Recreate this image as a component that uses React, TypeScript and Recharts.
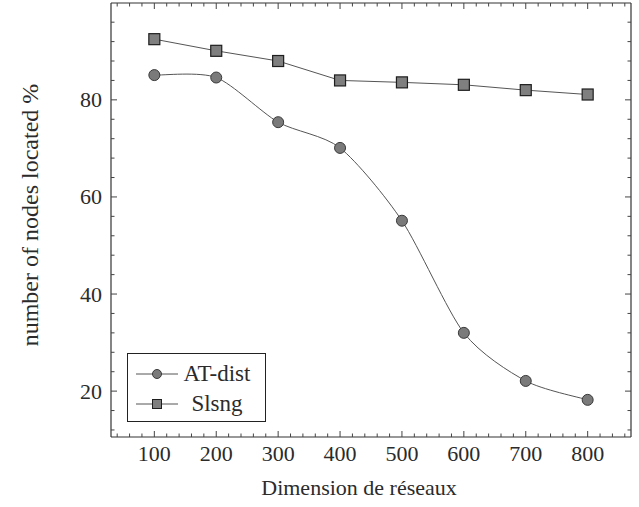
import { LineChart, Line, XAxis, YAxis, Legend } from "recharts";

// network sizes on the x axis
const DIMENSIONS = [100, 200, 300, 400, 500, 600, 700, 800];
// % of nodes located
const AT_DIST = [85.1, 84.6, 75.4, 70.1, 55.1, 32.0, 22.1, 18.2];
const SLSNG = [92.5, 90.1, 88.0, 84.0, 83.6, 83.1, 82.0, 81.1];

const X_MAJOR = [100, 200, 300, 400, 500, 600, 700, 800];
const X_MINOR = [
  40, 60, 80, 120, 140, 160, 180, 220, 240, 260, 280, 320, 340, 360, 380,
  420, 440, 460, 480, 520, 540, 560, 580, 620, 640, 660, 680, 720, 740, 760,
  780, 820, 840, 860,
];
const Y_MAJOR = [20, 40, 60, 80];
const Y_MINOR = [12, 16, 24, 28, 32, 36, 44, 48, 52, 56, 64, 68, 72, 76, 84, 88, 92, 96];

const X_DOMAIN: [number, number] = [30, 870];
const Y_DOMAIN: [number, number] = [10.55, 99.95];

const data = DIMENSIONS.map((dim, i) => ({
  dim,
  atDist: AT_DIST[i],
  slsng: SLSNG[i],
}));

const FONT = "'Liberation Serif', 'Times New Roman', serif";
const INK = "#2b2b2b";
const FRAME = { stroke: "#333", strokeWidth: 1.2 };
const MAJOR_LEN = 6;
const MINOR_LEN = 3.5;

// pgfplots-style "smooth" line: a cardinal spline through the points the
// library hands us (recharts accepts a d3 curve factory as Line type).
const TENSION = 0.13;
function smoothCurve(ctx: any) {
  let pts: [number, number][] = [];
  return {
    areaStart() {},
    areaEnd() {},
    lineStart() {
      pts = [];
    },
    point(x: number, y: number) {
      pts.push([+x, +y]);
    },
    lineEnd() {
      const n = pts.length;
      if (!n) return;
      ctx.moveTo(pts[0][0], pts[0][1]);
      for (let i = 0; i < n - 1; i++) {
        const p0 = pts[Math.max(i - 1, 0)];
        const p1 = pts[i];
        const p2 = pts[i + 1];
        const p3 = pts[Math.min(i + 2, n - 1)];
        ctx.bezierCurveTo(
          p1[0] + TENSION * (p2[0] - p0[0]),
          p1[1] + TENSION * (p2[1] - p0[1]),
          p2[0] - TENSION * (p3[0] - p1[0]),
          p2[1] - TENSION * (p3[1] - p1[1]),
          p2[0],
          p2[1]
        );
      }
    },
  };
}

function BottomTick({ x, y, payload }: any) {
  const major = X_MAJOR.includes(payload.value);
  return (
    <g>
      <line x1={x} y1={y} x2={x} y2={y - (major ? MAJOR_LEN : MINOR_LEN)} stroke="#444" />
      {major && (
        <text x={x} y={y + 23.5} textAnchor="middle" fontFamily={FONT} fontSize={22} fill={INK}>
          {payload.value}
        </text>
      )}
    </g>
  );
}

function TopTick({ x, y, payload }: any) {
  const major = X_MAJOR.includes(payload.value);
  return <line x1={x} y1={y} x2={x} y2={y + (major ? MAJOR_LEN : MINOR_LEN)} stroke="#444" />;
}

function LeftTick({ x, y, payload }: any) {
  const major = Y_MAJOR.includes(payload.value);
  return (
    <g>
      <line x1={x} y1={y} x2={x + (major ? MAJOR_LEN : MINOR_LEN)} y2={y} stroke="#444" />
      {major && (
        <text x={x - 9} y={y + 7.5} textAnchor="end" fontFamily={FONT} fontSize={22} fill={INK}>
          {payload.value}
        </text>
      )}
    </g>
  );
}

function RightTick({ x, y, payload }: any) {
  const major = Y_MAJOR.includes(payload.value);
  return <line x1={x} y1={y} x2={x - (major ? MAJOR_LEN : MINOR_LEN)} y2={y} stroke="#444" />;
}

function SquareDot({ cx, cy, index }: any) {
  if (cx == null || cy == null) return null;
  return (
    <rect key={`sq-${index}`} x={cx - 5.5} y={cy - 5.5} width={11} height={11} fill="#7f7f7f" stroke="#1e1e1e" strokeWidth={1.2} />
  );
}

function LegendBox({ payload }: any) {
  return (
    <div
      style={{
        border: "1.2px solid #222",
        background: "#fff",
        width: 137,
        height: 62,
        boxSizing: "content-box",
        paddingTop: 5,
        fontFamily: FONT,
        fontSize: 23,
        color: INK,
      }}
    >
      {(payload || []).map((entry: any) => (
        <div key={entry.value} style={{ display: "flex", alignItems: "center", height: 30, paddingLeft: 7 }}>
          <svg width={44} height={14}>
            <line x1={1} y1={7} x2={43} y2={7} stroke="#555" strokeWidth={1} />
            {entry.dataKey === "atDist" ? (
              <circle cx={22} cy={7} r={4.5} fill="#7a7a7a" stroke="#3a3a3a" />
            ) : (
              <rect x={17.5} y={2.5} width={9} height={9} fill="#7f7f7f" stroke="#1e1e1e" />
            )}
          </svg>
          <span style={{ width: 76, marginLeft: 0, textAlign: "center", lineHeight: "30px" }}>{entry.value}</span>
        </div>
      ))}
    </div>
  );
}

export default function App() {
  return (
    <div style={{ position: "absolute", left: 0, top: 0, width: 639, height: 507, background: "#fff" }}>
      <LineChart width={639} height={507} data={data} margin={{ top: 2, right: 7, bottom: 69, left: 110 }}>
        <XAxis
          xAxisId="b"
          type="number"
          dataKey="dim"
          domain={X_DOMAIN}
          ticks={[...X_MAJOR, ...X_MINOR]}
          interval={0}
          height={1}
          tickSize={0}
          tickMargin={0}
          tickLine={false}
          axisLine={FRAME}
          tick={<BottomTick />}
          allowDataOverflow
          label={{
            content: ({ viewBox }: any) => (
              <text
                x={viewBox.x + viewBox.width / 2 - 12}
                y={viewBox.y + 58}
                textAnchor="middle"
                fontFamily={FONT}
                fontSize={22}
                fill={INK}
              >
                Dimension de réseaux
              </text>
            ),
          }}
        />
        <XAxis
          xAxisId="t"
          orientation="top"
          type="number"
          dataKey="dim"
          domain={X_DOMAIN}
          ticks={[...X_MAJOR, ...X_MINOR]}
          interval={0}
          height={1}
          tickSize={0}
          tickMargin={0}
          tickLine={false}
          axisLine={FRAME}
          tick={<TopTick />}
          allowDataOverflow
        />
        <YAxis
          yAxisId="l"
          type="number"
          domain={Y_DOMAIN}
          ticks={[...Y_MAJOR, ...Y_MINOR]}
          interval={0}
          width={1}
          tickSize={0}
          tickMargin={0}
          tickLine={false}
          axisLine={FRAME}
          tick={<LeftTick />}
          allowDataOverflow
          label={{
            content: ({ viewBox }: any) => {
              const cx = viewBox.x + viewBox.width - 73;
              const cy = viewBox.y + viewBox.height / 2 - 5;
              return (
                <text
                  x={cx}
                  y={cy}
                  transform={`rotate(-90 ${cx} ${cy})`}
                  textAnchor="middle"
                  fontFamily={FONT}
                  fontSize={24}
                  fill={INK}
                >
                  number of nodes located %
                </text>
              );
            },
          }}
        />
        <YAxis
          yAxisId="r"
          orientation="right"
          type="number"
          domain={Y_DOMAIN}
          ticks={[...Y_MAJOR, ...Y_MINOR]}
          interval={0}
          width={1}
          tickSize={0}
          tickMargin={0}
          tickLine={false}
          axisLine={FRAME}
          tick={<RightTick />}
          allowDataOverflow
        />
        <Line
          xAxisId="b"
          yAxisId="l"
          type={smoothCurve as any}
          dataKey="atDist"
          name="AT-dist"
          stroke="#555"
          strokeWidth={1}
          dot={{ r: 5.5, fill: "#7a7a7a", stroke: "#3a3a3a", strokeWidth: 1 }}
          isAnimationActive={false}
        />
        <Line
          xAxisId="b"
          yAxisId="l"
          type="linear"
          dataKey="slsng"
          name="Slsng"
          stroke="#555"
          strokeWidth={1}
          dot={<SquareDot />}
          isAnimationActive={false}
        />
        <Legend
          layout="vertical"
          align="center"
          verticalAlign="middle"
          content={<LegendBox />}
          wrapperStyle={{ left: 127, top: 353, width: "auto" }}
        />
      </LineChart>
    </div>
  );
}
